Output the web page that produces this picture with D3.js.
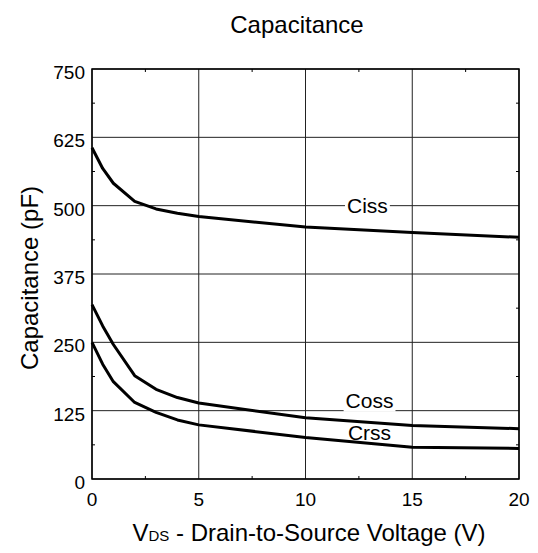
<!DOCTYPE html>
<html>
<head>
<meta charset="utf-8">
<script src="https://cdn.jsdelivr.net/npm/d3@7"></script>
<style>
  body { margin: 0; background: #fff; }
  text { font-family: "Liberation Sans", Arial, sans-serif; fill: #000; }
</style>
</head>
<body>
<div class="chart"></div>
<script>
// data (V_DS in volts, capacitance in pF)
const vds = [0, 0.5, 1, 2, 3, 4, 5, 10, 15, 20];
const ciss = [606, 568, 541, 508, 494, 486, 480, 461, 451, 442];
const coss = [319, 280, 246, 189, 164, 149, 139, 112, 98, 92];
const crss = [250, 210, 178, 140, 122, 108, 99, 76, 58, 56];

const xTicks = [0, 5, 10, 15, 20];
const yTicks = [0, 125, 250, 375, 500, 625, 750];
const seriesNames = ["Ciss", "Coss", "Crss"];

// label anchor points (V, pF) for each curve name
const labelAt = {Ciss: [12.9, 500], Coss: [13.0, 125], Crss: [13.0, 72]};

const width = 538;
const height = 553;
const margin = {top: 69, right: 19, bottom: 74, left: 92};
const innerWidth = width - margin.left - margin.right;
const innerHeight = height - margin.top - margin.bottom;

const svg = d3.select(".chart")
  .append("svg")
    .attr("width", width)
    .attr("height", height);

const g = svg.append("g")
  .attr("transform", `translate(${margin.left}, ${margin.top})`);

const x = d3.scaleLinear().domain([0, 20]).range([0, innerWidth]);
const y = d3.scaleLinear().domain([0, 750]).range([innerHeight, 0]);

// grid lines
g.append("g")
  .selectAll("line")
  .data(xTicks)
  .join("line")
    .attr("x1", d => x(d)).attr("x2", d => x(d))
    .attr("y1", 0).attr("y2", innerHeight)
    .attr("stroke", "#222").attr("stroke-width", 1);

g.append("g")
  .selectAll("line")
  .data(yTicks)
  .join("line")
    .attr("x1", 0).attr("x2", innerWidth)
    .attr("y1", d => y(d)).attr("y2", d => y(d))
    .attr("stroke", "#222").attr("stroke-width", 1);

// minor ticks on the frame
const xMinor = xTicks.slice(1).map(d => d - 2.5);
const yMinor = yTicks.slice(1).map(d => d - 62.5);
const minor = g.append("g").attr("stroke", "#000").attr("stroke-width", 1);
xMinor.forEach(d => {
  minor.append("line").attr("x1", x(d)).attr("x2", x(d)).attr("y1", innerHeight).attr("y2", innerHeight - 3);
  minor.append("line").attr("x1", x(d)).attr("x2", x(d)).attr("y1", 0).attr("y2", 3);
});
yMinor.forEach(d => {
  minor.append("line").attr("x1", 0).attr("x2", 3).attr("y1", y(d)).attr("y2", y(d));
  minor.append("line").attr("x1", innerWidth).attr("x2", innerWidth - 3).attr("y1", y(d)).attr("y2", y(d));
});

// frame
g.append("rect")
  .attr("width", innerWidth)
  .attr("height", innerHeight)
  .attr("fill", "none")
  .attr("stroke", "#000")
  .attr("stroke-width", 1.5);

// tick labels, placed with the scales
g.append("g")
  .selectAll("text")
  .data(xTicks)
  .join("text")
    .attr("x", d => x(d))
    .attr("y", innerHeight + 27)
    .attr("text-anchor", "middle")
    .attr("font-size", 19)
    .text(d => d);

g.append("g")
  .selectAll("text")
  .data(yTicks)
  .join("text")
    .attr("x", -7)
    .attr("y", d => y(d) + 10)
    .attr("text-anchor", "end")
    .attr("font-size", 19)
    .text(d => d);

// curves
const series = [ciss, coss, crss];
const line = d3.line()
  .x((d, i) => x(vds[i]))
  .y(d => y(d));

g.append("g")
  .selectAll("path")
  .data(series)
  .join("path")
    .attr("d", line)
    .attr("fill", "none")
    .attr("stroke", "#000")
    .attr("stroke-width", 3)
    .attr("stroke-linejoin", "round");

// curve labels
seriesNames.forEach(name => {
  const [v, c] = labelAt[name];
  const lg = g.append("g");
  const t = lg.append("text")
    .attr("x", x(v))
    .attr("y", y(c) + (name === "Ciss" ? 7 : name === "Coss" ? -3 : 0))
    .attr("text-anchor", "middle")
    .attr("font-size", 21)
    .text(name);
  if (name !== "Crss") {
    const b = t.node().getBBox();
    lg.insert("rect", "text")
      .attr("x", b.x - 2).attr("y", b.y)
      .attr("width", b.width + 4).attr("height", b.height)
      .attr("fill", "#fff");
  }
});

// title and axis labels
svg.append("text")
  .attr("x", 297)
  .attr("y", 33)
  .attr("text-anchor", "middle")
  .attr("font-size", 24)
  .text("Capacitance");

const xl = svg.append("text")
  .attr("x", 309)
  .attr("y", 541)
  .attr("text-anchor", "middle")
  .attr("font-size", 24);
xl.append("tspan").text("V");
xl.append("tspan").attr("font-size", 15).text("DS");
xl.append("tspan").text(" - Drain-to-Source Voltage (V)");

svg.append("text")
  .attr("transform", "translate(38, 278) rotate(-90)")
  .attr("text-anchor", "middle")
  .attr("font-size", 24)
  .text("Capacitance (pF)");
</script>
</body>
</html>
